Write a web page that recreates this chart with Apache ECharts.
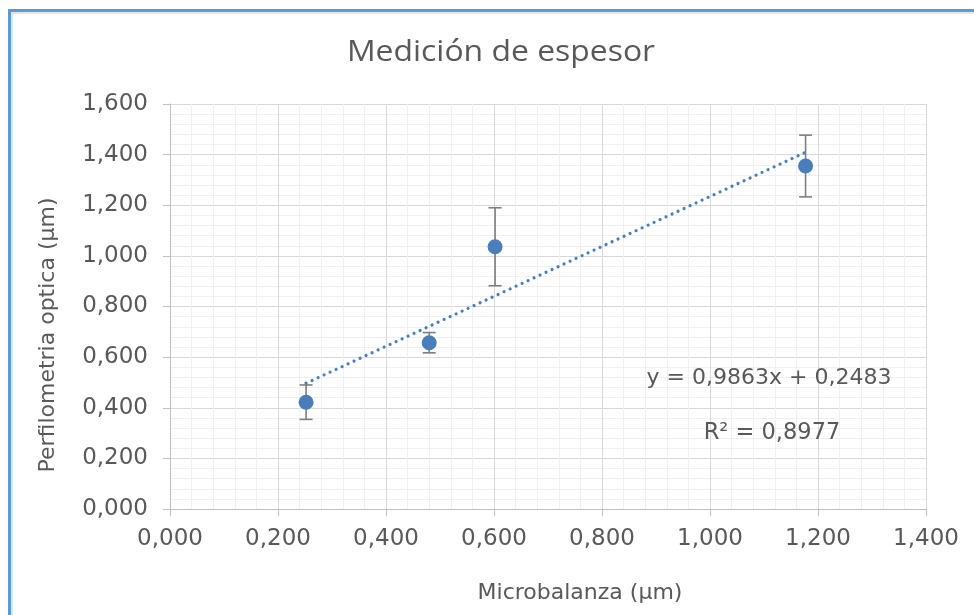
<!DOCTYPE html>
<html>
<head>
<meta charset="utf-8">
<script src="https://cdn.jsdelivr.net/npm/echarts@6/dist/echarts.min.js"></script>
<style>
  html, body { margin: 0; padding: 0; background: #ffffff; }
  #chart { width: 974px; height: 615px; }
</style>
</head>
<body>
<div id="chart"></div>
<script>
// Thickness measurements: microbalance (x) vs. optical profilometry (y), in µm
const microbalanza = [0.252, 0.480, 0.602, 1.177];
const perfilometria = [0.422, 0.657, 1.036, 1.355];
const errorPerfil = [0.068, 0.040, 0.154, 0.122];

// Linear trendline as reported in the label
const trendSlope = 0.9863;
const trendIntercept = 0.2483;
const trendR2 = 0.8977;

const titleText = 'Medición de espesor';
const xName = 'Microbalanza (µm)';
const yName = 'Perfilometria optica (µm)';

const fmt = v => v.toFixed(3).replace('.', ',');
const fmt4 = v => v.toFixed(4).replace('.', ',');

const points = microbalanza.map((x, i) => [x, perfilometria[i]]);
const errData = microbalanza.map((x, i) => [x, perfilometria[i] - errorPerfil[i], perfilometria[i] + errorPerfil[i]]);
const xMin = Math.min(...microbalanza), xMax = Math.max(...microbalanza);
const trendData = [[xMin, trendSlope * xMin + trendIntercept], [xMax, trendSlope * xMax + trendIntercept]];

const labelColor = '#595959';
const blue = '#4a7ebb';
const textFont = '"DejaVu Sans"';

const chart = echarts.init(document.getElementById('chart'), null, { renderer: 'canvas' });

const axisCommon = {
  type: 'value',
  axisLine: { show: true, lineStyle: { color: '#bfbfbf', width: 1 } },
  axisTick: { show: true, inside: false, length: 7, lineStyle: { color: '#bfbfbf' } },
  splitLine: { show: true, lineStyle: { color: '#d9d9d9', width: 1 } },
  minorTick: { show: false, splitNumber: 5 },
  minorSplitLine: { show: true, lineStyle: { color: '#f0f0f0', width: 1 } },
  axisLabel: { color: labelColor, fontFamily: 'DejaVu Sans', fontSize: 23, formatter: fmt }
};

chart.setOption({
  animation: false,
  backgroundColor: '#ffffff',
  grid: { left: 170, right: 48, top: 104, bottom: 106, containLabel: false },
  xAxis: Object.assign({}, axisCommon, {
    min: 0, max: 1.4, interval: 0.2,
    axisLabel: Object.assign({}, axisCommon.axisLabel, { margin: 19 })
  }),
  yAxis: Object.assign({}, axisCommon, {
    min: 0, max: 1.6, interval: 0.2,
    axisLabel: Object.assign({}, axisCommon.axisLabel, { margin: 22 })
  }),
  graphic: [
    // chart frame
    { type: 'rect', shape: { x: 8, y: 9, width: 980, height: 3 }, style: { fill: '#5b9bd5' }, z: 100 },
    { type: 'rect', shape: { x: 8, y: 9, width: 3, height: 620 }, style: { fill: '#5b9bd5' }, z: 100 },
    { type: 'rect', shape: { x: 11, y: 12, width: 980, height: 2 }, style: { fill: '#e3e3e3' }, z: 99 },
    { type: 'rect', shape: { x: 11, y: 12, width: 2, height: 620 }, style: { fill: '#e3e3e3' }, z: 99 },
    { type: 'text', x: 501, y: 53, scaleX: 1.1, z: 100, style: { text: titleText, font: '29px "Open Sans"', fill: labelColor, textAlign: 'center', textVerticalAlign: 'middle' } },
    { type: 'text', x: 580, y: 593, z: 100, style: { text: xName, font: '22px ' + textFont, fill: labelColor, textAlign: 'center', textVerticalAlign: 'middle' } },
    { type: 'text', x: 48, y: 335, rotation: Math.PI / 2, z: 100, style: { text: yName, font: '22px ' + textFont, fill: labelColor, textAlign: 'center', textVerticalAlign: 'middle' } },
    { type: 'text', x: 769, y: 378, z: 100, style: { text: 'y = ' + fmt4(trendSlope) + 'x + ' + fmt4(trendIntercept), font: '22px ' + textFont, fill: labelColor, textAlign: 'center', textVerticalAlign: 'middle' } },
    { type: 'text', x: 772, y: 433, z: 100, style: { text: 'R² = ' + fmt4(trendR2), font: '22.5px ' + textFont, fill: labelColor, textAlign: 'center', textVerticalAlign: 'middle' } }
  ],
  series: [
    {
      type: 'line',
      data: trendData,
      symbol: 'none',
      silent: true,
      z: 3,
      lineStyle: { color: blue, width: 3.2, type: [0.01, 6.6], cap: 'round' }
    },
    {
      type: 'custom',
      data: errData,
      z: 4,
      renderItem: function (params, api) {
        const x = api.value(0);
        const lo = api.coord([x, api.value(1)]);
        const hi = api.coord([x, api.value(2)]);
        const cap = 6.5;
        const style = { stroke: '#7f7f7f', lineWidth: 1.6 };
        return {
          type: 'group',
          children: [
            { type: 'line', shape: { x1: lo[0], y1: lo[1], x2: hi[0], y2: hi[1] }, style: style },
            { type: 'line', shape: { x1: hi[0] - cap, y1: hi[1], x2: hi[0] + cap, y2: hi[1] }, style: style },
            { type: 'line', shape: { x1: lo[0] - cap, y1: lo[1], x2: lo[0] + cap, y2: lo[1] }, style: style }
          ]
        };
      }
    },
    {
      type: 'scatter',
      data: points,
      symbol: 'circle',
      symbolSize: 15,
      z: 5,
      itemStyle: { color: blue, opacity: 1 }
    }
  ]
});
</script>
</body>
</html>
